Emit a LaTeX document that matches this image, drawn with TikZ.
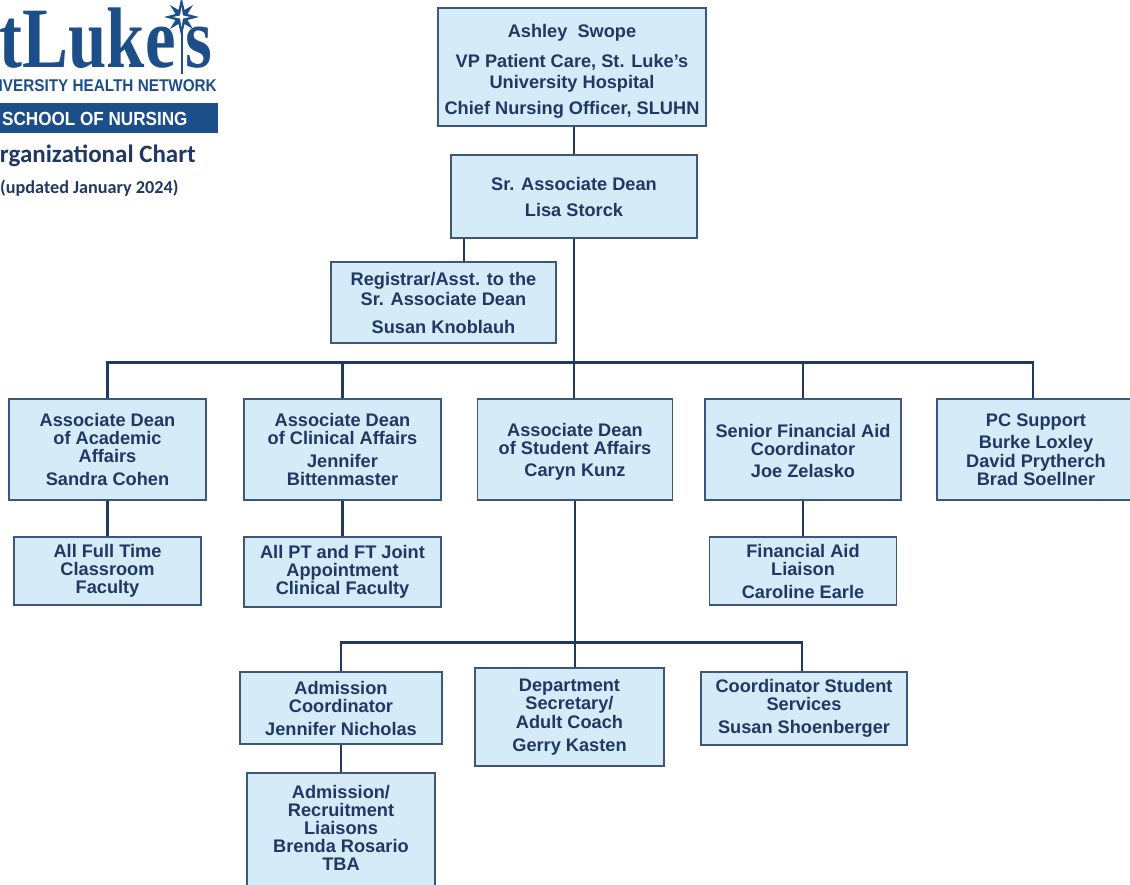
\documentclass[tikz,border=0pt]{standalone}
\usepackage{fontspec}
\setmainfont{Liberation Sans}
\newfontfamily\logoserif{Liberation Serif}
\newfontfamily\calib{Carlito}
\usetikzlibrary{calc}
\definecolor{navy}{HTML}{1F3864}
\definecolor{boxedge}{HTML}{3E5678}
\definecolor{boxfill}{HTML}{D5EBF7}
\definecolor{logoblue}{HTML}{1C4E8A}
\definecolor{linecol}{HTML}{22395F}
\tikzset{
  orgbox/.style={draw=boxedge, line width=1.4pt, fill=boxfill, text=navy,
    align=center, inner sep=0pt,
    font=\fontsize{18.2}{18}\selectfont\bfseries},
  link/.style={draw=linecol, line width=2.4pt},
  logotext/.style={inner sep=0pt, text=logoblue}
}
\begin{document}
\begin{tikzpicture}[x=1pt,y=-1pt]
\clip (0,0) rectangle (1130,884);
\fill[white] (0,0) rectangle (1130,884);

% ---------- logo ----------
\node[logotext, anchor=base east] (stl) at (176,67)
  {\scalebox{0.8}[1]{\logoserif\bfseries\fontsize{86}{86}\selectfont StLuke}};
\node[logotext, anchor=base west] (sts) at (185,67)
  {\scalebox{0.8}[1]{\logoserif\bfseries\fontsize{86}{86}\selectfont s}};
\draw[logoblue, line width=2pt] (181.5,14) -- (181.5,74);
\fill[logoblue] (181.5,-3) -- (184.5,10) -- (193,5) -- (187.5,14) -- (199,17)
  -- (187.5,20) -- (193,29) -- (184.5,24) -- (181.5,37) -- (178.5,24) -- (170,29)
  -- (175.5,20) -- (164,17) -- (175.5,14) -- (170,5) -- (178.5,10) -- cycle;
\fill[white] (181.5,7) -- (183,15.5) -- (190,17) -- (183,18.5) -- (181.5,27)
  -- (180,18.5) -- (173,17) -- (180,15.5) -- cycle;
\node[logotext, anchor=base east] (uhn) at (217,91)
  {\scalebox{0.9}[1]{\fontsize{17}{17}\selectfont\bfseries UNIVERSITY HEALTH NETWORK}};
\fill[logoblue] (0,103) rectangle (218,133);
\node[inner sep=0pt, text=white, anchor=base west] (son) at (2,125)
  {\scalebox{0.9}[1]{\fontsize{19}{19}\selectfont\bfseries SCHOOL OF NURSING}};
\node[inner sep=0pt, text=navy, anchor=base east] (oc) at (196,162)
  {\calib\bfseries\fontsize{25}{25}\selectfont Organizational Chart};
\node[inner sep=0pt, text=navy, anchor=base west] (upd) at (0,193)
  {\calib\bfseries\fontsize{18.2}{18}\selectfont (updated January 2024)};

% ---------- boxes ----------
\node[orgbox, minimum width=268, minimum height=118] (top) at (572,67)
  {\rule{0pt}{21pt}Ashley\ \ Swope\\[12pt]VP Patient Care, St. Luke’s\\[3pt]University Hospital\\[8pt]Chief Nursing Officer, SLUHN};
\node[orgbox, minimum width=246, minimum height=83] (sr) at (574,196.5)
  {Sr. Associate Dean\\[8pt]Lisa Storck};
\node[orgbox, minimum width=225, minimum height=81] (reg) at (443.5,302.5)
  {Registrar/Asst. to the\\[2pt]Sr. Associate Dean\\[10pt]Susan Knoblauh};

\node[orgbox, minimum width=197, minimum height=101] (acad) at (107.5,449.5)
  {Associate Dean\\of Academic\\Affairs\\[5pt]Sandra Cohen};
\node[orgbox, minimum width=197, minimum height=101] (clin) at (342.5,449.5)
  {Associate Dean\\of Clinical Affairs\\[5pt]Jennifer\\Bittenmaster};
\node[orgbox, minimum width=195, minimum height=101] (stud) at (575,449.5)
  {\rule{0pt}{17pt}Associate Dean\\of Student Affairs\\[4pt]Caryn Kunz};
\node[orgbox, minimum width=196, minimum height=101] (sfa) at (803,449.5)
  {\rule{0pt}{17pt}Senior Financial Aid\\Coordinator\\[4pt]Joe Zelasko};
\node[orgbox, minimum width=198, minimum height=101] (pc) at (1036,449.5)
  {PC Support\\[4pt]Burke Loxley\\[1pt]David Prytherch\\Brad Soellner};

\node[orgbox, minimum width=187, minimum height=68] (ftf) at (107.5,571)
  {All Full Time\\Classroom\\Faculty};
\node[orgbox, minimum width=197, minimum height=70] (ptft) at (342.5,572)
  {All PT and FT Joint\\Appointment\\Clinical Faculty};
\node[orgbox, minimum width=187, minimum height=68] (fal) at (803,571)
  {Financial Aid\\Liaison\\[5pt]Caroline Earle};

\node[orgbox, minimum width=202, minimum height=72] (admc) at (341,708)
  {Admission\\Coordinator\\[5pt]Jennifer Nicholas};
\node[orgbox, minimum width=189, minimum height=98] (dept) at (569.5,717)
  {Department\\Secretary/\\[1pt]Adult Coach\\[5pt]Gerry Kasten};
\node[orgbox, minimum width=206, minimum height=73] (css) at (804,708.5)
  {Coordinator Student\\Services\\[5pt]Susan Shoenberger};
\node[orgbox, minimum width=188, minimum height=124] (adr) at (341,835)
  {Admission/\\Recruitment\\Liaisons\\Brenda Rosario\\TBA\\[-3pt]\mbox{}};

% ---------- connectors ----------
\draw[link] (top.south -| sr.north) -- (sr.north);
\draw[link] (sr.south) -- (sr.south |- stud.north);
\draw[link] ([xshift=20.5pt]reg.north) -- ([xshift=20.5pt]reg.north |- sr.south);
\draw[link] (acad.north) -- ++(0,-36) -| ([xshift=-3pt]pc.north);
\draw[link] (clin.north) -- ++(0,-36);
\draw[link] (sfa.north) -- ++(0,-36);
\draw[link] (acad.south) -- (ftf.north);
\draw[link] (clin.south) -- (clin.south |- ptft.north);
\draw[link] (sfa.south) -- (fal.north);
\draw[link] (stud.south) -- (stud.south |- dept.north);
\draw[link] (admc.north) -- ++(0,-29) -| ([xshift=-2pt]css.north);
\draw[link] (admc.south) -- (adr.north);
\end{tikzpicture}
\end{document}
